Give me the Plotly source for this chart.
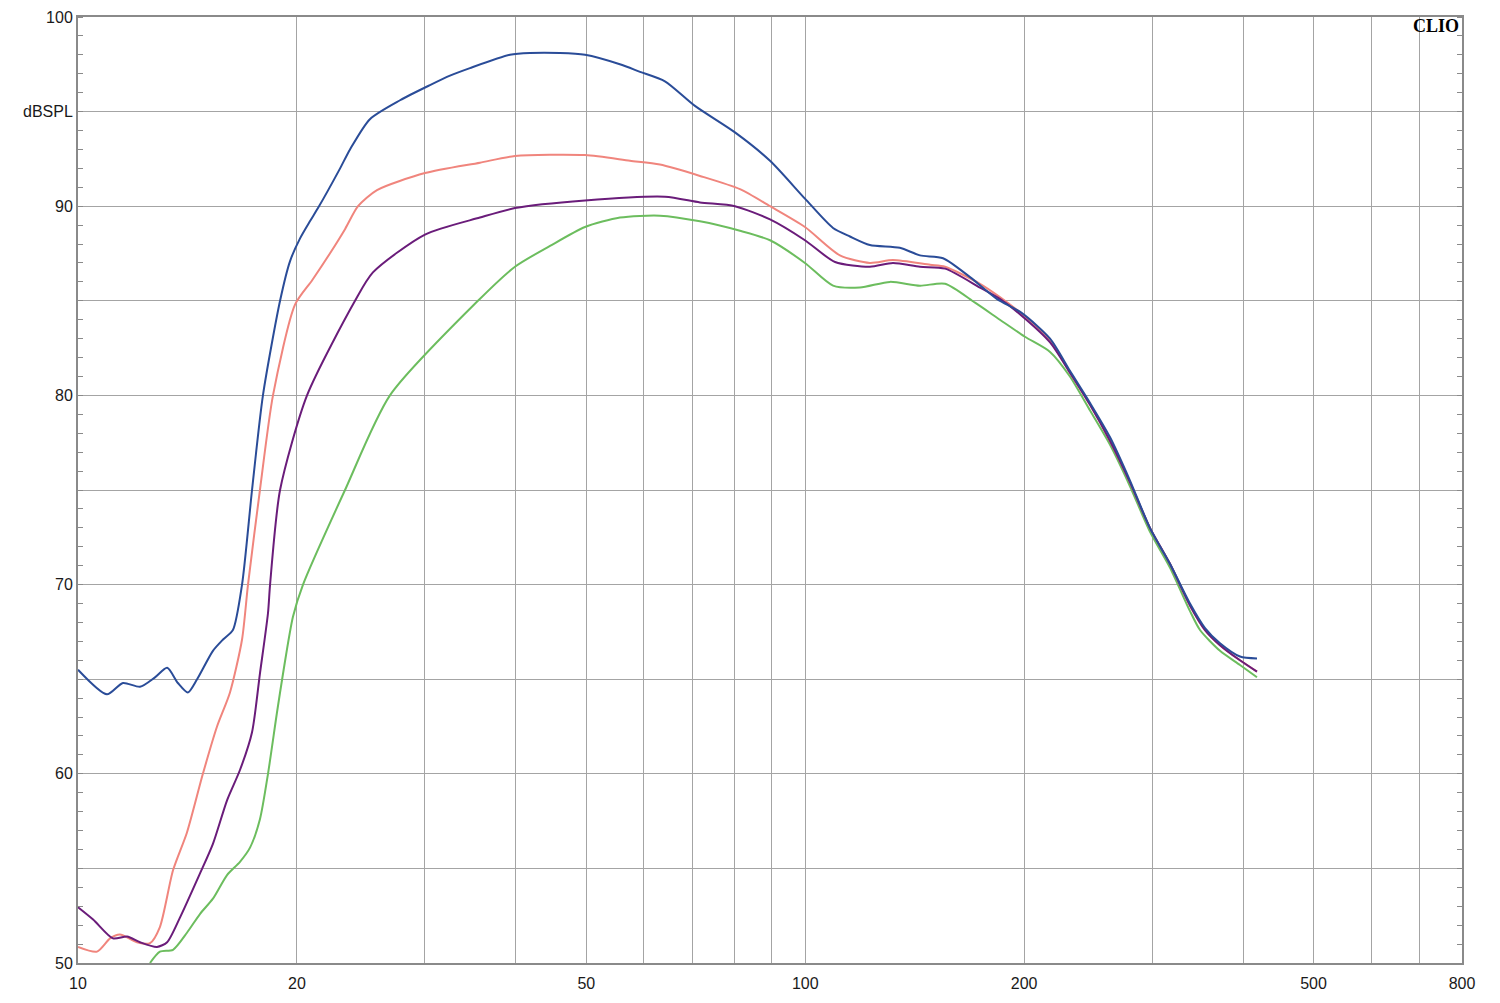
import plotly.graph_objects as go

# ---------------- data ----------------
blue_f = [10, 10.96, 11.53, 12.17, 12.76, 13.26, 13.72, 14.16, 14.58, 15.33, 15.83, 16.33,
          16.81, 17.35, 17.96, 18.96, 19.57, 20.2, 20.84, 21.38, 22.93, 23.66, 25.2, 27.72, 30.48,
          32.47, 34.59, 39.26, 41.83, 46.0, 49.8, 55.6, 59.27, 64.13, 70.52, 80.05, 89.45,
          99.91, 109.2, 115.2, 122.7, 134.9, 143.8, 154.7, 168.5, 183.4, 198.6, 217.1, 231.2,
          246.4, 262.4, 279.6, 297.8, 317.3, 338.1, 354.6, 371.8, 396.1, 418.0]
blue_db = [65.5, 64.2, 64.8, 64.6, 65.1, 65.6, 64.8, 64.3, 65.0, 66.5, 67.1, 67.6,
           70.0, 75.0, 80.0, 85.0, 87.1, 88.3, 89.2, 89.9, 92.0, 93.0, 94.6, 95.6, 96.4,
           96.9, 97.3, 98.0, 98.1, 98.1, 98.0, 97.5, 97.1, 96.6, 95.3, 93.9, 92.4,
           90.4, 88.85, 88.4, 87.95, 87.8, 87.4, 87.25, 86.25, 85.1, 84.35, 83.0, 81.3,
           79.6, 77.8, 75.5, 73.0, 71.1, 69.0, 67.7, 66.9, 66.2, 66.1]

salmon_f = [10, 10.62, 11.07, 11.42, 12.05, 12.56, 12.96, 13.51, 14.12, 14.85, 15.53, 16.18,
            16.81, 17.13, 17.79, 18.54, 19.88, 21.0, 22.2, 23.3, 24.27, 25.77, 30.0, 35.7, 39.89,
            49.8, 57.41, 63.12, 71.65, 81.33, 89.45, 99.91, 111.6, 122.7, 132.0, 148.5, 155.7,
            173.9, 185.2, 198.6, 217.1, 231.2, 246.4, 262.4, 279.6, 297.8, 317.3, 338.1, 354.6,
            371.8, 396.1, 418.0]
salmon_db = [50.85, 50.6, 51.3, 51.5, 51.1, 51.05, 51.9, 54.9, 56.9, 60.0, 62.5, 64.3,
             67.1, 70.0, 75.0, 80.0, 84.8, 86.1, 87.5, 88.8, 90.0, 90.85, 91.75, 92.3, 92.65,
             92.7, 92.4, 92.2, 91.6, 90.9, 90.0, 88.9, 87.4, 87.0, 87.15, 86.9, 86.8,
             85.9, 85.2, 84.3, 82.9, 81.2, 79.5, 77.6, 75.4, 73.0, 71.1, 68.9, 67.6,
             66.8, 66.0, 65.4]

purple_f = [10, 10.49, 11.17, 11.68, 12.17, 12.84, 13.26, 13.81, 14.72, 15.33, 16.03, 16.70,
            17.35, 17.79, 18.25, 18.37, 18.96, 20.65, 24.04, 25.44, 30.0, 35.7, 39.89, 49.8,
            64.13, 71.65, 80.05, 89.45, 99.91, 109.9, 122.7, 132.0, 143.8, 155.7, 173.9, 185.2,
            198.6, 217.1, 231.2, 246.4, 262.4, 279.6, 297.8, 317.3, 338.1, 354.6, 371.8, 396.1,
            418.0]
purple_db = [52.95, 52.3, 51.3, 51.4, 51.1, 50.85, 51.1, 52.4, 54.75, 56.3, 58.6, 60.2,
             62.2, 65.3, 68.5, 70.0, 75.0, 80.0, 85.0, 86.5, 88.5, 89.4, 89.9, 90.3,
             90.5, 90.2, 90.0, 89.3, 88.2, 87.05, 86.8, 87.0, 86.8, 86.7, 85.7, 85.1,
             84.2, 82.8, 81.2, 79.5, 77.6, 75.4, 73.0, 71.1, 68.9, 67.6, 66.8, 66.0,
             65.4]

green_f = [12.56, 12.96, 13.51, 14.12, 14.72, 15.33, 16.03, 16.70, 17.24, 17.79, 18.25, 18.77,
           19.14, 19.75, 20.39, 23.29, 26.85, 35.48, 39.89, 44.57, 49.8, 55.62, 63.12, 71.65,
           81.33, 89.45, 99.91, 109.2, 118.9, 130.8, 143.8, 155.7, 171.2, 185.2, 200.5, 217.1,
           231.2, 246.4, 262.4, 279.6, 297.8, 317.3, 338.1, 349.0, 371.8, 396.1, 418.0]
green_db = [50.0, 50.6, 50.7, 51.6, 52.6, 53.4, 54.65, 55.35, 56.1, 57.6, 60.0, 63.2,
            65.3, 68.3, 70.0, 75.0, 80.0, 85.0, 86.8, 87.9, 88.9, 89.4, 89.5, 89.2,
            88.7, 88.2, 87.0, 85.8, 85.7, 86.0, 85.8, 85.9, 84.9, 84.0, 83.1, 82.3,
            81.0, 79.2, 77.4, 75.2, 72.8, 70.9, 68.6, 67.6, 66.5, 65.75, 65.1]

x_grid = [10, 20, 30, 40, 50, 60, 70, 80, 90, 100, 200, 300, 400, 500, 600, 700, 800]
x_labels = ["10", "20", "", "", "50", "", "", "", "", "100", "200", "", "", "500", "", "", "800"]
y_grid = [50, 55, 60, 65, 70, 75, 80, 85, 90, 95, 100]
y_labels = ["50", "", "60", "", "70", "", "80", "", "90", "dBSPL", "100"]

# ---------------- figure ----------------
fig = go.Figure()
series = [
    (green_f, green_db, "#6cbd5e"),
    (salmon_f, salmon_db, "#f0857d"),
    (purple_f, purple_db, "#6a1c7a"),
    (blue_f, blue_db, "#2a4c98"),
]
for fx, fy, col in series:
    fig.add_trace(go.Scatter(x=fx, y=fy, mode="lines",
                             line=dict(color=col, width=2, shape="spline", smoothing=0.7),
                             showlegend=False, hoverinfo="skip"))

# invisible trace to carry right-hand y axis ticks
fig.add_trace(go.Scatter(x=[10], y=[50], yaxis="y2", mode="markers",
                         marker=dict(opacity=0), showlegend=False, hoverinfo="skip"))

axis_col = "#8a8a8a"
grid_col = "#a4a4a4"
font = dict(family="Liberation Sans, Arial, sans-serif", size=16, color="#1a1a1a")

# page body has an 8px margin: figure sits at (8, 8)
fig.update_layout(
    width=1484, height=987,
    margin=dict(l=70, r=30, t=9, b=32),
    paper_bgcolor="white", plot_bgcolor="white",
    font=font,
    xaxis=dict(type="log", range=[1, 2.90309], tickvals=x_grid, ticktext=x_labels,
               showgrid=True, gridcolor=grid_col, gridwidth=1, automargin=False,
               showline=True, mirror=True, linecolor=axis_col, linewidth=2,
               ticks="", ticklabelstandoff=5, zeroline=False, tickfont=font),
    yaxis=dict(range=[50, 100], tickvals=y_grid, ticktext=y_labels,
               showgrid=True, gridcolor=grid_col, gridwidth=1, automargin=False,
               showline=True, mirror=True, linecolor=axis_col, linewidth=2,
               ticks="", zeroline=False, tickfont=font,
               minor=dict(dtick=1, ticks="inside", ticklen=5, tickcolor=axis_col,
                          tickwidth=1, showgrid=False)),
    yaxis2=dict(range=[50, 100], overlaying="y", side="right", showgrid=False,
                showticklabels=False, zeroline=False, tickvals=[], automargin=False,
                minor=dict(dtick=1, ticks="inside", ticklen=5, tickcolor=axis_col,
                           tickwidth=1, showgrid=False)),
)

fig.add_annotation(text="<b>CLIO</b>", xref="paper", yref="paper", x=0.999, y=1.003,
                   xanchor="right", yanchor="top", showarrow=False,
                   font=dict(family="Liberation Serif, Times New Roman, serif", size=18, color="black"))

fig.write_html("out.html")
